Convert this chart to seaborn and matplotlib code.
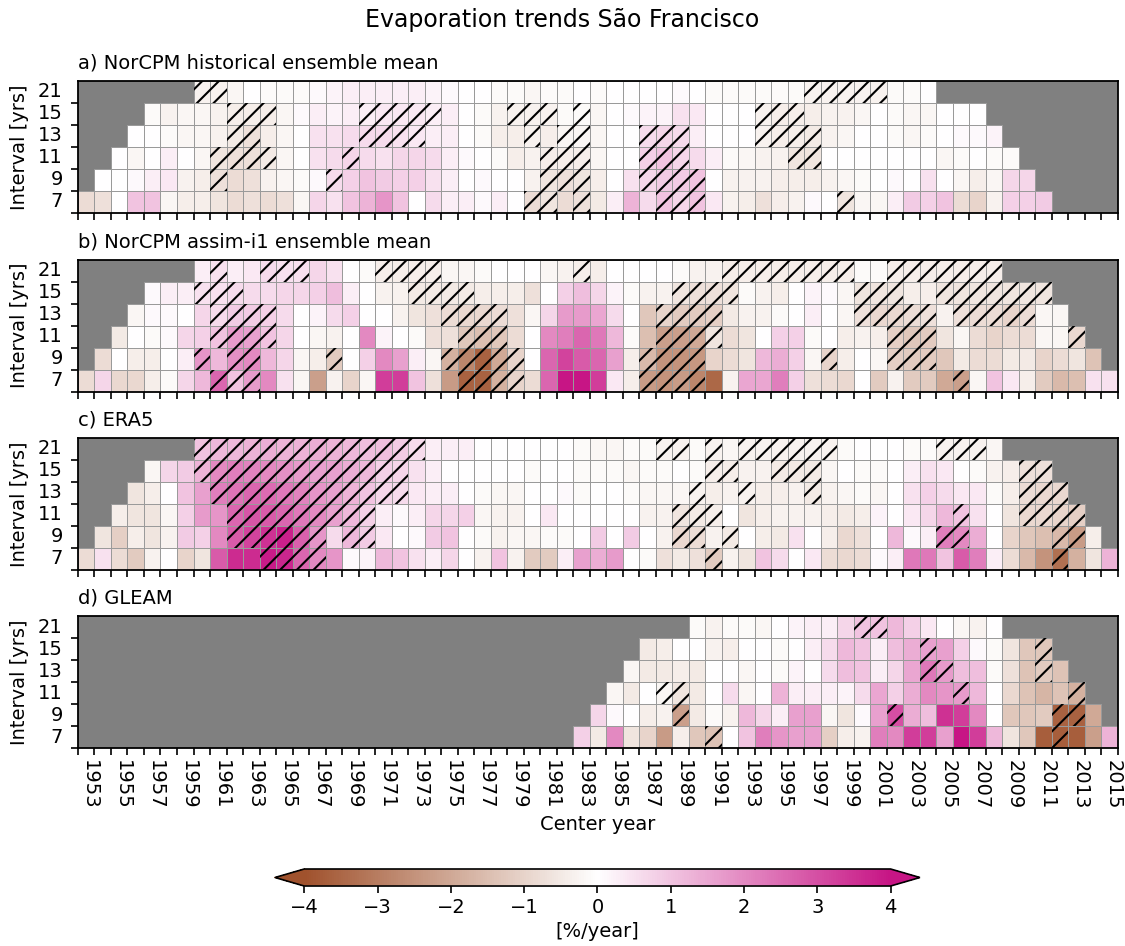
import numpy as np
import pandas as pd
import seaborn as sns
import matplotlib
matplotlib.use("Agg")
import matplotlib.pyplot as plt
from matplotlib.colors import LinearSegmentedColormap, to_rgba
from matplotlib.patches import Rectangle
from matplotlib.transforms import ScaledTranslation

# ---------------- axes definitions ----------------
first_year = 1952
n_cols = 63
intervals = [21, 15, 13, 11, 9, 7]
year_labels = list(range(1953, 2016, 2))
panel_titles = ["a) NorCPM historical ensemble mean", "b) NorCPM assim-i1 ensemble mean",
                "c) ERA5", "d) GLEAM"]

# ---------------- a) NorCPM historical ----------------
hist_starts = [7, 4, 3, 2, 1, 0]
hist_21 = [-0.3,-0.3,-0.2,0.0,-0.1,-0.1,-0.1,0.1,0.2,0.3, 0.3,0.3,0.3,0.3,0.2,0.1,0.0,0.0,-0.1,-0.1,
           -0.2,-0.1,-0.1,0.0,-0.1,0.0,0.0,0.0,0.0,0.1, 0.0,-0.1,-0.1,-0.1,-0.1,-0.1,-0.1,-0.3,-0.3,-0.3,
           -0.3,-0.3,-0.1,-0.1,0.0]
hist_15 = [-0.1,-0.3,-0.2,-0.2,-0.3,-0.4,-0.4,-0.4,-0.2,0.1, 0.3,0.2,0.3,0.3,0.4,0.4,0.4,0.3,0.3,0.0,
           -0.1,-0.3,-0.3,-0.3,-0.3,-0.1,-0.1,-0.2,0.0,0.1, 0.2,0.2,0.5,0.4,0.0,0.0,0.0,-0.3,-0.4,-0.4,
           -0.4,-0.3,-0.3,-0.2,0.0,-0.1,-0.2,-0.2,0.0,0.0, 0.0]
hist_13 = [0.0,0.0,-0.1,-0.2,-0.2,-0.3,-0.5,-0.7,-0.4,-0.2, 0.0,0.5,0.5,0.6,0.6,0.6,0.5,0.4,0.3,0.3,
           0.0,-0.1,-0.4,-0.4,-0.3,-0.4,-0.2,-0.2,-0.2,0.0, 0.0,0.6,0.7,0.6,0.3,0.0,0.0,0.0,-0.3,-0.4,
           -0.4,-0.5,-0.3,-0.2,0.0,0.0,-0.1,-0.2,-0.1,0.0, 0.1,0.1,0.2]
hist_11 = [0.0,-0.2,0.0,0.3,0.0,-0.2,-0.6,-0.7,-0.7,-0.5, -0.2,0.0,0.5,0.6,0.7,0.6,0.5,0.7,0.7,0.6,
           0.3,0.1,0.0,-0.1,-0.4,-0.3,-0.4,-0.4,-0.4,-0.2, 0.0,0.0,0.8,1.0,0.7,0.6,0.3,-0.1,-0.2,-0.3,
           -0.3,-0.6,-0.6,0.0,0.0,0.0,0.0,0.0,0.0,0.0, -0.2,-0.1,0.0,-0.1,-0.1]
hist_9 = [0.0,0.0,0.1,0.3,0.4,-0.3,-0.4,-0.7,-0.8,-0.7, -0.3,-0.2,-0.1,0.1,0.6,0.8,1.0,0.9,0.8,0.8,
          0.5,0.3,0.0,0.1,0.0,0.0,-0.3,-0.6,-0.7,-0.6, -0.4,0.0,0.5,0.7,0.9,0.9,1.0,0.0,-0.3,-0.3,
          -0.3,-0.4,-0.4,-0.4,-0.3,-0.2,-0.1,0.0,0.1,0.0, 0.5,0.0,-0.2,-0.4,-0.2,0.7,0.7]
hist_7 = [-0.8,-0.7,0.0,1.0,1.0,-0.2,-0.4,-0.4,-0.6,-0.8, -0.7,-0.8,-0.7,-0.2,0.7,0.5,1.0,1.3,1.8,1.0,
          0.0,0.6,0.3,0.3,0.1,0.3,0.0,-0.8,-0.6,-0.8, -0.7,-0.5,0.3,1.3,0.6,1.0,0.7,1.0,0.4,-0.3,
          -0.4,-0.7,-0.4,-0.3,0.1,0.0,-0.6,-0.2,-0.2,0.3, 0.9,0.8,1.0,-0.8,-1.0,-0.3,0.8,0.8,0.9]
hist_sig = [[7, 8, 44, 45, 46, 47, 48],
            [9, 10, 11, 17, 18, 19, 20, 21, 26, 27, 28, 30, 41, 42, 43],
            [9, 10, 17, 18, 19, 20, 27, 29, 30, 34, 35, 36, 41, 42, 43, 44],
            [8, 9, 10, 11, 16, 28, 29, 30, 34, 35, 36, 43, 44],
            [8, 15, 28, 29, 30, 34, 35, 36, 37],
            [27, 28, 30, 35, 36, 37, 46]]

# ---------------- b) NorCPM assim-i1 ----------------
assim_starts = [7, 4, 3, 2, 1, 0]
assim_21 = [0.3,0.5,0.3,0.4,0.6,0.5,0.5,0.7,0.5,0.0, -0.1,-0.4,-0.4,-0.4,-0.4,-0.2,-0.2,-0.1,0.0,0.0,
            0.0,-0.2,-0.3,-0.4,-0.4,0.0,0.0,0.0,0.0,-0.1, -0.3,-0.3,-0.4,-0.4,-0.4,-0.4,-0.4,-0.4,-0.4,-0.4,
            -0.1,-0.1,-0.4,-0.4,-0.4,-0.4,-0.4,-0.4,-0.4]
assim_15 = [0.1,0.3,0.3,0.5,0.5,0.6,0.6,0.6,0.7,0.7, 0.8,1.1,0.3,0.0,-0.3,-0.3,-0.5,-0.5,-0.5,-0.5,
            -0.4,-0.4,-0.4,-0.7,0.0,0.8,1.1,0.7,0.2,-0.1, -0.3,-0.3,-0.6,-0.7,-0.7,-0.6,-0.1,-0.3,-0.4,0.0,
            0.2,0.1,-0.2,-0.6,-0.6,-0.6,-0.4,-0.4,-0.6,-0.6, -0.6,-0.6,-0.6,-0.6,-0.6]
assim_13 = [-0.2,0.1,0.1,0.0,0.7,0.6,0.9,0.9,0.8,0.6, 0.0,0.2,0.6,0.8,0.0,0.0,-0.3,-0.6,-0.7,-0.8,
            -0.9,-0.9,-0.8,-0.7,-0.2,0.7,1.7,1.7,1.5,0.6, 0.0,-1.3,-1.0,-1.2,-1.2,-1.1,-0.5,-0.3,-0.3,-0.1,
            0.0,0.3,0.0,-0.2,-0.7,-0.9,-0.9,-0.8,-0.7,-0.3, -0.7,-0.8,-0.8,-1.0,-0.8,-0.2,-0.2]
assim_11 = [-0.5,0.0,-0.1,0.1,0.7,0.8,1.0,1.7,1.6,1.0, 0.7,0.0,-0.2,-0.3,0.0,2.0,0.2,0.0,-0.1,-0.7,
            -0.7,-1.3,-1.5,-1.3,-0.8,0.0,2.0,2.2,2.6,2.3, 1.2,-0.1,-1.5,-2.2,-2.2,-2.0,-0.6,-0.8,-0.6,0.0,
            0.8,0.8,-0.1,0.0,-0.4,-0.3,-0.4,-1.1,-1.3,-1.2, -0.6,-0.2,-0.8,-1.0,-0.8,-0.8,-0.2,-0.2,-0.9]
assim_9 = [-0.8,0.0,-0.4,-0.4,0.0,0.3,1.8,1.2,1.9,2.0, 1.2,0.7,-0.2,-0.4,-1.2,0.0,0.8,2.0,1.6,0.3,
           -0.2,-1.8,-2.8,-3.6,-2.0,-1.0,0.0,2.6,3.2,2.8, 2.6,1.6,-0.4,-1.6,-2.5,-2.5,-2.4,-1.0,-0.8,-0.6,
           1.2,1.4,0.8,-0.2,-1.0,-0.4,0.0,-0.2,-1.1,-1.2, -1.2,-1.3,-0.5,-0.8,-0.8,-0.5,-0.5,-1.0,-0.8,-0.6,
           -1.4]
assim_7 = [-0.8,0.7,-0.9,-0.9,-0.4,-0.1,0.7,1.2,2.6,1.0, 1.7,2.0,0.5,-0.2,-2.2,-0.3,-1.0,-0.2,3.3,3.3,
           1.0,-0.7,-2.3,-3.6,-3.6,-1.8,-1.0,-0.8,2.6,4.0, 4.0,3.3,0.4,-0.4,-2.3,-2.5,-2.3,-2.8,-3.5,-0.3,
           1.5,1.5,2.2,0.8,-0.7,-0.8,-0.9,0.0,-1.2,-0.3, -1.2,-1.2,-2.0,-2.2,-0.2,1.0,0.4,-0.4,-1.2,-1.6,
           -1.5,0.5,0.5]
assim_sig = [[8, 11, 12, 13, 18, 19, 20, 21, 30, 39, 40, 41, 42, 43, 44, 45, 46, 49, 50, 51, 52, 53, 54, 55],
             [7, 8, 9, 20, 21, 22, 23, 36, 37, 38, 39, 47, 48, 49, 52, 53, 54, 55, 56, 57, 58],
             [8, 9, 10, 11, 22, 23, 24, 25, 35, 36, 37, 38, 47, 48, 49, 50, 51, 53, 54, 55, 56, 57],
             [8, 9, 10, 11, 23, 24, 25, 35, 36, 37, 38, 49, 50, 51, 60],
             [7, 9, 10, 15, 22, 23, 24, 25, 26, 34, 35, 36, 37, 45, 49, 50, 51],
             [8, 9, 10, 23, 24, 25, 26, 34, 35, 36, 37, 53]]

# ---------------- c) ERA5 ----------------
era5_starts = [7, 4, 3, 2, 1, 0]
era5_21 = [1.0,1.2,1.2,1.3,1.4,1.3,1.3,1.4,1.3,1.2, 1.1,1.1,0.9,0.6,0.3,0.3,0.3,0.0,0.0,0.0,
           0.0,0.0,0.0,-0.1,-0.2,-0.2,-0.1,-0.1,-0.3,-0.3, -0.1,-0.3,-0.2,-0.3,-0.3,-0.3,-0.3,-0.3,-0.3,-0.1,
           0.0,0.0,0.0,-0.1,-0.1,-0.3,-0.3,-0.3,-0.2]
era5_15 = [-0.2,0.7,0.9,1.3,2.0,2.2,2.1,2.0,1.9,1.7, 1.6,1.6,1.4,1.2,0.8,0.7,0.5,0.3,0.0,0.0,
           0.0,0.0,0.0,-0.1,0.0,0.0,-0.1,-0.1,-0.1,-0.2, -0.1,-0.1,0.0,-0.1,-0.4,-0.4,-0.3,-0.3,-0.5,-0.5,
           -0.5,-0.2,0.0,-0.1,-0.1,0.0,0.3,0.5,0.4,0.0, -0.1,-0.3,-0.4,-0.7,-0.7]
era5_13 = [-0.6,-0.4,0.0,1.0,1.6,2.2,2.4,2.6,2.5,2.3, 2.1,1.8,1.6,1.3,1.0,0.7,0.6,0.4,0.3,0.3,
           0.0,-0.1,-0.2,-0.2,0.0,0.0,0.1,-0.1,0.0,0.0, -0.1,-0.2,-0.2,-0.2,-0.3,-0.4,-0.3,-0.3,-0.4,-0.4,
           -0.3,-0.5,-0.3,-0.2,-0.1,-0.2,0.0,0.5,0.8,0.6, 0.4,0.4,-0.1,-0.4,-0.8,-0.9,-0.9]
era5_11 = [-0.4,-0.6,-0.6,-0.2,0.8,1.7,1.8,2.6,2.9,2.8, 2.6,2.3,2.0,1.6,1.2,0.8,0.3,0.1,0.3,0.7,
           0.7,0.8,-0.2,-0.3,-0.3,0.0,0.4,0.0,0.0,0.0, 0.0,0.0,-0.3,-0.3,-0.6,-0.5,-0.4,0.0,-0.6,-0.4,
           -0.3,-0.3,-0.3,-0.4,-0.5,-0.4,0.2,0.0,0.4,0.7, 1.2,1.0,0.5,0.0,-0.6,-0.9,-0.9,-1.0,-1.1]
era5_9 = [-0.6,-1.1,-0.4,-0.6,-0.3,0.9,0.8,2.0,2.8,3.2, 3.5,3.8,2.7,1.8,0.6,1.2,0.9,0.4,0.0,0.1,
          0.9,1.0,0.0,-0.1,-0.3,-0.2,-0.2,-0.1,-0.1,0.0, 0.9,0.0,0.9,0.0,-0.3,-0.9,-0.8,-0.3,-0.5,0.0,
          -0.4,-0.5,0.5,0.0,-0.4,-0.9,-0.7,0.0,1.2,0.1, 0.3,2.2,2.0,1.4,0.0,-1.0,-1.3,-1.5,-1.6,-2.3,
          -0.4]
era5_7 = [-0.8,0.5,-0.8,-1.2,-0.3,0.0,-1.0,-0.6,2.8,3.6, 3.6,3.9,3.7,2.6,2.0,1.8,0.1,0.2,1.2,1.0,
          0.5,0.3,0.7,0.0,-0.3,1.0,-0.3,-1.2,-1.2,0.3, 1.6,1.4,1.7,0.0,-0.1,-0.7,-0.5,-0.7,-1.2,-0.3,
          -0.6,1.0,0.6,0.0,0.4,-0.8,-0.9,-0.8,0.1,0.3, 2.3,2.3,1.0,2.8,2.2,0.3,-0.8,-1.6,-2.5,-3.3,
          -1.8,-0.6,1.3]
era5_sig = [list(range(7, 21)) + [35, 36, 38, 40, 41, 42, 43, 44, 45, 52, 53, 54],
            list(range(7, 20)) + [38, 39, 42, 43, 44, 57, 58],
            list(range(8, 20)) + [37, 40, 44, 57, 58, 59],
            list(range(9, 18)) + [36, 37, 38, 53, 57, 58, 59, 60],
            list(range(9, 15)) + [16, 17, 36, 37, 39, 52, 53, 59, 60],
            [11, 12, 13, 14, 38, 59]]

# ---------------- d) GLEAM ----------------
gleam_starts = [37, 34, 33, 32, 31, 30]
gleam_21 = [-0.1,-0.3,-0.1,-0.1,-0.2,0.0,0.2,0.3,0.3,0.7, 1.0,1.0,1.2,0.8,0.4,0.0,-0.2,-0.3,0.0]
gleam_15 = [-0.5,-0.4,0.0,0.0,-0.3,-0.4,0.0,0.0,-0.1,0.0, 0.3,0.6,1.2,1.0,0.3,1.1,1.4,1.6,1.6,0.8,
            0.1,-0.1,-0.6,-1.3,-1.3]
gleam_13 = [-0.2,-0.5,-0.5,-0.4,-0.5,0.0,0.0,-0.2,0.0,-0.1, 0.2,0.0,0.6,1.1,1.0,0.3,0.7,1.5,2.3,1.7,
            1.1,1.1,-0.1,-0.7,-1.4,-1.2,-1.4]
gleam_11 = [-0.2,-0.5,0.0,-0.2,-0.6,-0.5,0.0,0.6,-0.2,0.0, 1.3,0.3,0.3,0.3,0.2,0.6,1.5,0.8,1.4,2.0,
            1.8,1.7,1.2,0.0,-0.9,-1.4,-1.7,-1.4,-1.8]
gleam_9 = [0.7,0.1,0.0,-0.4,-0.3,-2.2,-0.5,-0.1,-0.3,1.2, 0.7,0.3,1.6,1.6,-0.2,-0.6,0.1,1.6,3.0,1.4,
           1.1,3.5,3.3,2.0,0.0,-1.3,-1.3,-1.2,-3.6,-3.6, -2.0]
gleam_7 = [0.8,-0.5,2.0,-0.6,-1.0,-2.3,-0.4,-1.3,-1.4,0.0, 1.0,2.2,1.8,1.6,1.6,-1.1,-0.4,-0.3,2.2,2.0,
           3.3,3.3,1.6,4.0,3.3,1.2,-0.6,-1.3,-3.7,-3.7, -3.7,-2.2,1.3]
gleam_sig = [[47, 48], [51, 58], [51, 52, 58], [35, 36, 53, 60], [36, 49, 59, 60], [38, 59]]

# ---------------- build grids ----------------
def build(starts, rows):
    grid = np.full((len(intervals), n_cols), np.nan)
    for r, (s, vals) in enumerate(zip(starts, rows)):
        grid[r, s:s + len(vals)] = vals
    return grid


def build_sig(sig_rows):
    m = np.zeros((len(intervals), n_cols), dtype=bool)
    for r, cols in enumerate(sig_rows):
        m[r, cols] = True
    return m


panels = [
    (build(hist_starts, [hist_21, hist_15, hist_13, hist_11, hist_9, hist_7]), build_sig(hist_sig)),
    (build(assim_starts, [assim_21, assim_15, assim_13, assim_11, assim_9, assim_7]), build_sig(assim_sig)),
    (build(era5_starts, [era5_21, era5_15, era5_13, era5_11, era5_9, era5_7]), build_sig(era5_sig)),
    (build(gleam_starts, [gleam_21, gleam_15, gleam_13, gleam_11, gleam_9, gleam_7]), build_sig(gleam_sig)),
]

# ---------------- plot ----------------
sns.set_style("white")
plt.rcParams["font.family"] = ["DejaVu Sans"]
plt.rcParams["hatch.linewidth"] = 1.5
plt.rcParams["hatch.color"] = "black"
for key in ["text.color", "axes.labelcolor", "xtick.color", "ytick.color", "axes.edgecolor"]:
    plt.rcParams[key] = "black"

cmap = LinearSegmentedColormap.from_list("brown_pink", ["sienna", "white", "mediumvioletred"])
grid_rgba = to_rgba("#9a9a9a")

fig = plt.figure(figsize=(11.25, 9.46), dpi=100)
bottoms = [0.775, 0.586, 0.3975, 0.2093]
left, width, height = 0.0693, 0.9244, 0.1395
years = [first_year + i for i in range(n_cols)]
shift = ScaledTranslation(-3.5 / 72, 0, fig.dpi_scale_trans)

mesh0 = None
for k, ((grid, sig), title) in enumerate(zip(panels, panel_titles)):
    ax = fig.add_axes([left, bottoms[k], width, height])
    df = pd.DataFrame(grid, index=intervals, columns=years)
    sns.heatmap(df, ax=ax, cmap=cmap, vmin=-4, vmax=4, cbar=False,
                linewidths=0.7, linecolor="#9a9a9a")
    mesh = ax.collections[0]
    if mesh0 is None:
        mesh0 = mesh
    # cell borders only on cells that hold data
    ec = np.zeros((grid.size, 4))
    ec[~np.isnan(grid).ravel()] = grid_rgba
    mesh.set_edgecolor(ec)
    ax.set_facecolor("#808080")
    for sp in ax.spines.values():
        sp.set_visible(True)
        sp.set_color("black")
        sp.set_linewidth(1.3)
    # hatching for significant cells
    rr, cc = np.nonzero(sig)
    for r, c in zip(rr, cc):
        ax.add_patch(Rectangle((c, r), 1, 1, fill=False, hatch="//", linewidth=0,
                               edgecolor="black"))
    # ticks
    ax.set_xticks(np.arange(1, n_cols + 1, 2))
    ax.set_xticks(np.arange(0, n_cols + 1), minor=True)
    ax.set_yticks(np.arange(len(intervals)) + 0.5)
    ax.set_yticklabels([str(v) for v in intervals], rotation=0, fontsize=14)
    ax.set_yticks(np.arange(1, len(intervals) + 1), minor=True)
    ax.tick_params(axis="x", which="both", length=5, width=1.2, bottom=True, colors="black")
    ax.tick_params(axis="y", which="major", length=0, pad=11, left=True, colors="black")
    ax.tick_params(axis="y", which="minor", length=5, width=1.2, left=True, colors="black")
    if k == len(panels) - 1:
        ax.set_xticklabels([str(y) for y in year_labels], rotation=270, fontsize=14)
        for lab in ax.get_xticklabels():
            lab.set_transform(lab.get_transform() + shift)
        ax.set_xlabel("Center year", fontsize=14, color="black")
    else:
        ax.set_xticklabels([])
        ax.set_xlabel("")
    ax.set_ylabel("Interval [yrs]", fontsize=14, labelpad=6, color="black")
    ax.set_title(title, loc="left", fontsize=14, pad=9, color="black")

fig.suptitle("Evaporation trends São Francisco", fontsize=17, y=0.992, color="black")

cax = fig.add_axes([0.2444, 0.0634, 0.5733, 0.018])
cb = fig.colorbar(mesh0, cax=cax, orientation="horizontal", extend="both")
cb.set_ticks(np.arange(-4, 5, 1))
cb.ax.tick_params(labelsize=14, length=5, width=1.2, colors="black")
cb.set_label("[%/year]", fontsize=14, color="black")
cb.outline.set_linewidth(1.2)
cb.outline.set_edgecolor("black")

fig.savefig("out.png", dpi=100)
